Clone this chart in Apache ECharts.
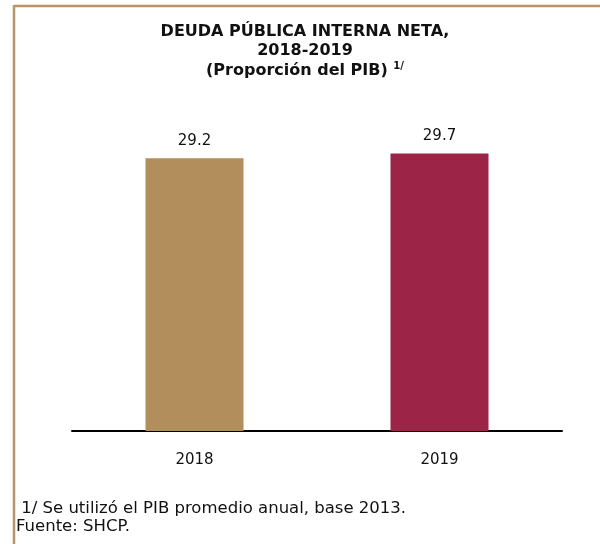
<!DOCTYPE html>
<html>
<head>
<meta charset="utf-8">
<script src="https://cdn.jsdelivr.net/npm/echarts@6/dist/echarts.min.js"></script>
<style>
html,body{margin:0;padding:0;background:#fff;}
#c{width:600px;height:544px;}
</style>
</head>
<body>
<div id="c"></div>
<script>
const categories = ['2018', '2019'];
const values = [29.2, 29.7];
const barColors = ['#B38E5D', '#9B2447'];
const titleLines = ['DEUDA PÚBLICA INTERNA NETA,', '2018-2019', '(Proporción del PIB)'];
const footnotes = [' 1/ Se utilizó el PIB promedio anual, base 2013.', 'Fuente: SHCP.'];

const FONT = 'DejaVu Sans';
const chart = echarts.init(document.getElementById('c'), null, {renderer: 'canvas'});
chart.setOption({
  animation: false,
  backgroundColor: '#fff',
  graphic: [
    {type: 'line', shape: {x1: 14, y1: 6, x2: 600, y2: 6}, style: {stroke: '#B8966A', lineWidth: 2.5}},
    {type: 'line', shape: {x1: 14, y1: 5, x2: 14, y2: 544}, style: {stroke: '#B8966A', lineWidth: 2.5}},
    {type: 'text', left: 16, top: 500, style: {text: footnotes.join('\n'), font: '16.5px "' + FONT + '"', fill: '#111', lineHeight: 18}}
  ],
  title: {
    text: titleLines[0] + '\n' + titleLines[1] + '\n{t|' + titleLines[2] + '} {s|1/}',
    left: 300, textAlign: 'center',
    top: 17,
    textStyle: {
      fontFamily: FONT, fontWeight: 'bold', fontSize: 16, color: '#111', lineHeight: 19.5,
      rich: {
        t: {fontFamily: FONT, fontWeight: 'bold', fontSize: 16, color: '#111', lineHeight: 19.5},
        s: {fontFamily: FONT, fontWeight: 'bold', fontSize: 10, color: '#111', verticalAlign: 'top', padding: [0, 0, 8, 0]}
      }
    }
  },
  grid: {left: 72, right: 38, top: 104, bottom: 113, containLabel: false},
  xAxis: {
    type: 'category',
    data: categories,
    axisLine: {lineStyle: {color: '#000', width: 2}},
    axisTick: {show: false},
    axisLabel: {fontFamily: FONT, fontSize: 15, color: '#111', margin: 22}
  },
  yAxis: {
    type: 'value', min: 0, max: 35,
    show: false, splitLine: {show: false}
  },
  series: [{
    type: 'bar',
    barWidth: '40%',
    data: values.map((v, i) => ({value: v, itemStyle: {color: barColors[i]}})),
    label: {show: true, position: 'top', distance: 10, fontFamily: FONT, fontSize: 15, color: '#111', formatter: p => p.value.toFixed(1)}
  }]
});
</script>
</body>
</html>
